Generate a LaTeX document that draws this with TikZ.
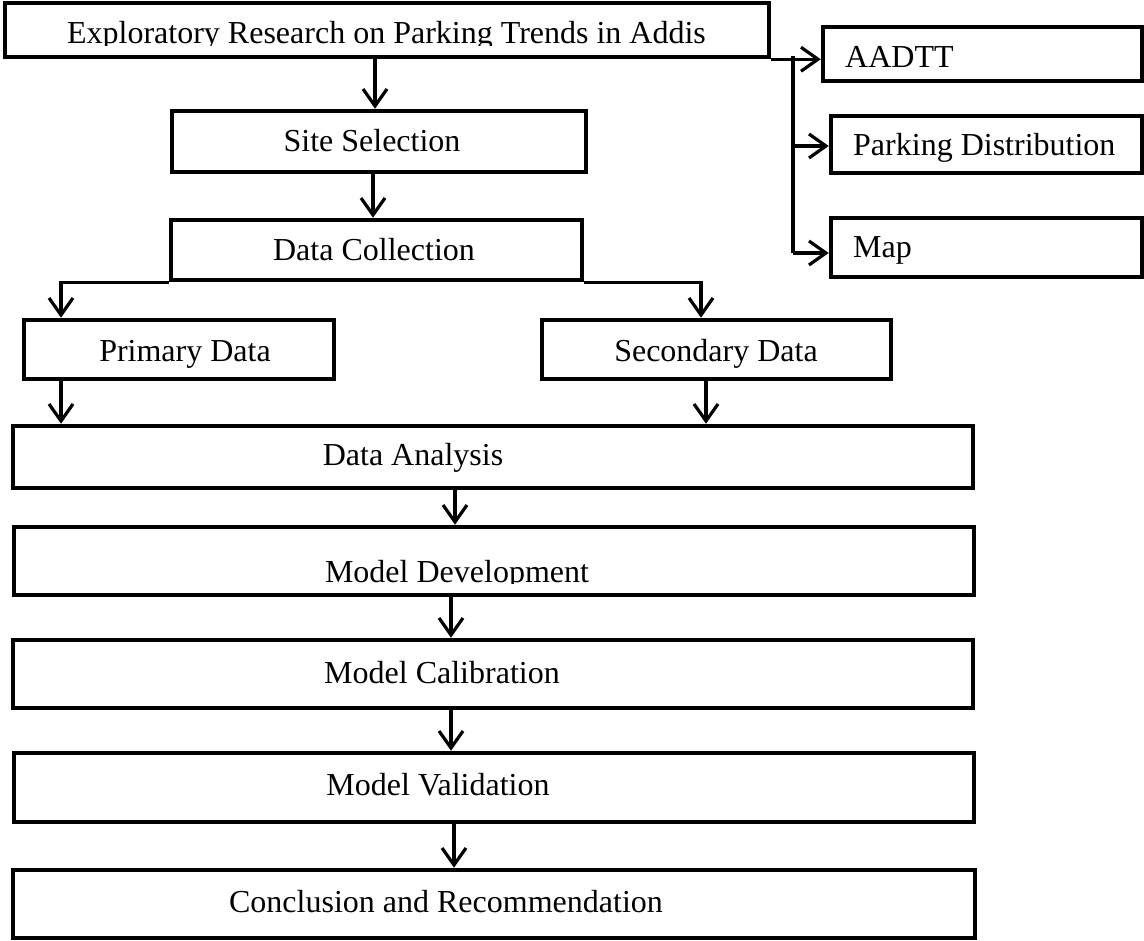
\documentclass[tikz,border=0pt]{standalone}
\usepackage{fontspec}
\setmainfont{Liberation Serif}
\usetikzlibrary{arrows.meta}
\begin{document}
\begin{tikzpicture}[x=1pt,y=-1pt,
  box/.style={draw, line width=4.5pt, rectangle, inner sep=0pt},
  txt/.style={inner sep=0pt, anchor=base, font=\fontsize{32}{38}\selectfont},
  ltxt/.style={txt, anchor=base west},
  arr/.style={line width=3.2pt, -{Straight Barb[length=17pt,width=24pt]}},
  ln/.style={line width=3.2pt}]
\useasboundingbox (0,0) rectangle (1144,941);
\fill[white] (0,0) rectangle (1144,941);
% boxes
\node[box, minimum width=764pt, minimum height=54pt] (top) at (387,30) {};
\node[box, minimum width=414pt, minimum height=61pt] (site) at (379,141.5) {};
\node[box, minimum width=411pt, minimum height=60pt] (dc) at (376.5,250) {};
\node[box, minimum width=310pt, minimum height=59pt] (pd) at (179,349.5) {};
\node[box, minimum width=349pt, minimum height=59pt] (sd) at (716.5,349.5) {};
\node[box, minimum width=960pt, minimum height=62pt] (da) at (493,457) {};
\node[box, minimum width=960pt, minimum height=68pt] (md) at (494,561) {};
\node[box, minimum width=960pt, minimum height=68pt] (mc) at (493,674) {};
\node[box, minimum width=960pt, minimum height=69pt] (mv) at (494,787.5) {};
\node[box, minimum width=962pt, minimum height=68pt] (cr) at (494,904) {};
\node[box, minimum width=319pt, minimum height=54pt] (aadtt) at (982.5,54) {};
\node[box, minimum width=311pt, minimum height=57pt] (park) at (986.5,144.5) {};
\node[box, minimum width=311pt, minimum height=59pt] (map) at (986.5,247.5) {};
% texts
\begin{scope}
\clip (0,0) rectangle (1144,45.5);
\node[txt] (ttop) at (386.5,44) {Exploratory Research on Parking Trends in Addis};
\end{scope}
\node[txt] (tsite) at (372,152) {Site Selection};
\node[txt] (tdc) at (374,261) {Data Collection};
\node[txt] (tpd) at (185,362) {Primary Data};
\node[txt] (tsd) at (716,362) {Secondary Data};
\node[txt] (tda) at (413,465) {Data Analysis};
\begin{scope}
\clip (0,500) rectangle (1144,583.5);
\node[txt] (tmd) at (457,582) {Model Development};
\end{scope}
\node[txt] (tmc) at (442,683) {Model Calibration};
\node[txt] (tmv) at (438,795) {Model Validation};
\node[txt] (tcr) at (446,912) {Conclusion and Recommendation};
\node[ltxt] (taadtt) at (845,68) {AADTT};
\node[ltxt] (tpark) at (853,156) {Parking Distribution};
\node[ltxt] (tmap) at (853,258) {Map};
% helper x positions
\coordinate (x375) at (375,0);
\coordinate (x373) at (373,0);
\coordinate (x61) at (61,0);
\coordinate (x701) at (701,0);
\coordinate (x706) at (706,0);
\coordinate (x455) at (455,0);
\coordinate (x451) at (451,0);
\coordinate (x454) at (454,0);
\coordinate (b1) at (793,56);
\coordinate (b2) at (793,146);
\coordinate (b3) at (793,253);
% connectors
\draw[arr] (top.south -| x375) -- (site.north -| x375);
\draw[arr] (site.south -| x373) -- (dc.north -| x373);
\draw[arr] (dc.south west) -| (pd.north -| x61);
\draw[arr] (dc.south east) -| (sd.north -| x701);
\draw[arr] (pd.south -| x61) -- (da.north -| x61);
\draw[arr] (sd.south -| x706) -- (da.north -| x706);
\draw[arr] (da.south -| x455) -- (md.north -| x455);
\draw[arr] (md.south -| x451) -- (mc.north -| x451);
\draw[arr] (mc.south -| x451) -- (mv.north -| x451);
\draw[arr] (mv.south -| x454) -- (cr.north -| x454);
\draw[arr] (top.south east) -- (top.south east -| aadtt.west);
\draw[ln] (b1) -- (b3);
\draw[arr] (b2) -- (b2 -| park.west);
\draw[arr] (b3) -- (b3 -| map.west);
\end{tikzpicture}
\end{document}
